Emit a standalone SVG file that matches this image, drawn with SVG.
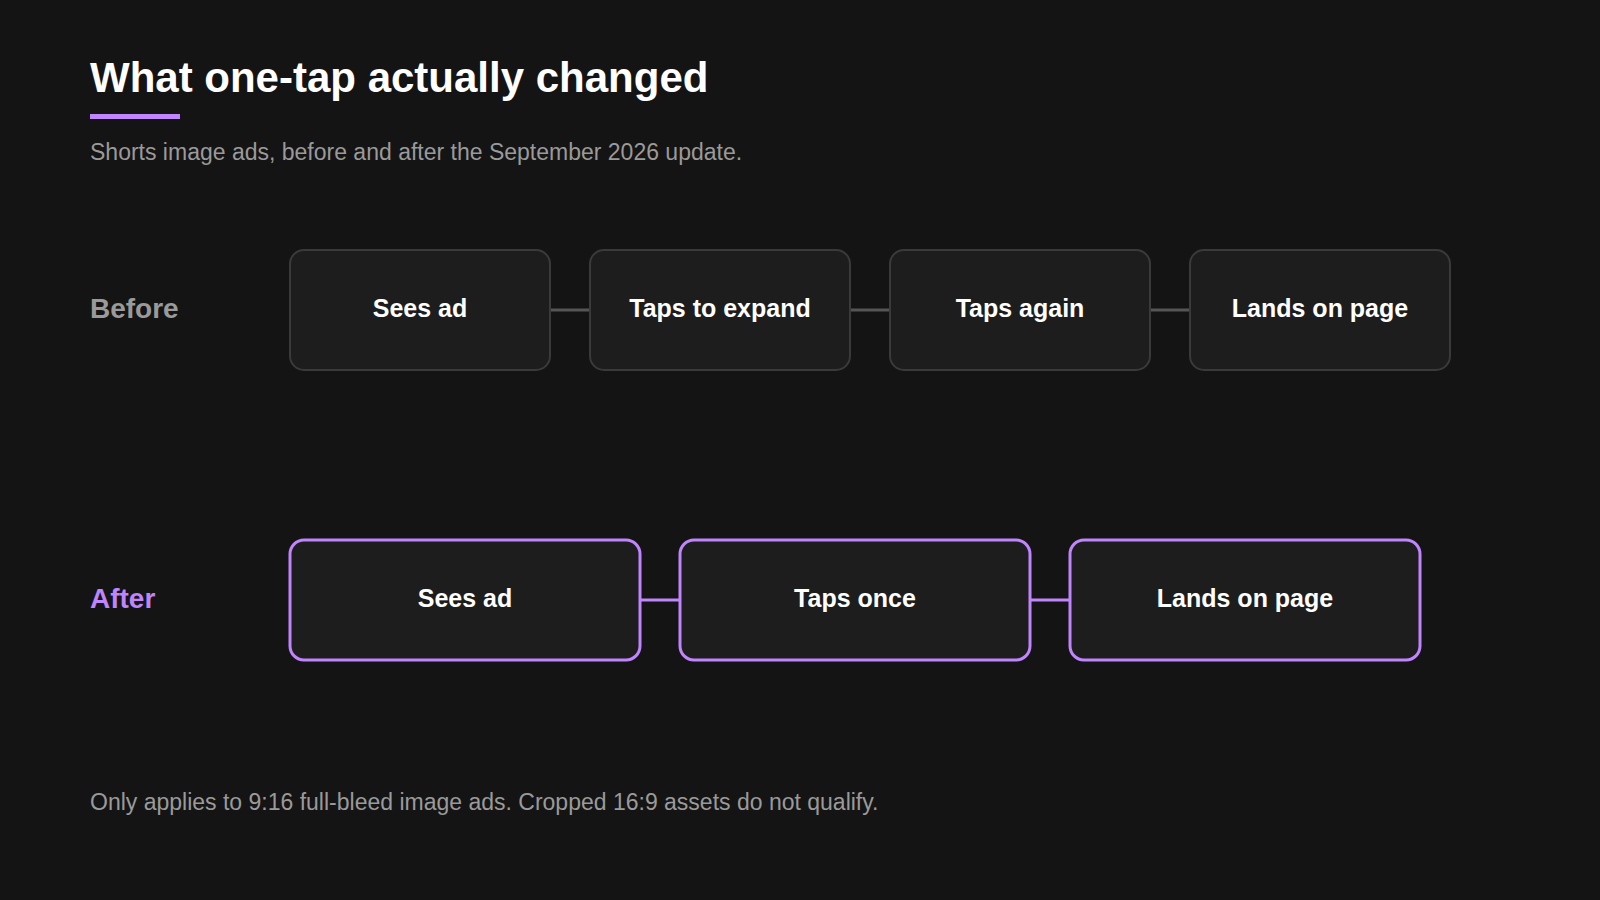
<svg xmlns="http://www.w3.org/2000/svg" width="1600" height="900" viewBox="0 0 1600 900">
<style>
.bg{fill:#141414}
.title{font-family:"Liberation Sans",Arial,sans-serif;font-weight:700;font-size:42px;fill:#ffffff}
.sub{font-family:"Liberation Sans",Arial,sans-serif;font-size:23px;fill:#9a9a9a}
.row{font-family:"Liberation Sans",Arial,sans-serif;font-weight:700;font-size:28px}
.lbl{font-family:"Liberation Sans",Arial,sans-serif;font-weight:700;font-size:25px;fill:#ffffff;text-anchor:middle}
.nb{fill:#1d1d1d;stroke:#3a3a3a;stroke-width:2}
.na{fill:#1d1d1d;stroke:#c084fc;stroke-width:3}
.cb{stroke:#555555;stroke-width:3}
.ca{stroke:#c084fc;stroke-width:3}
</style>
<rect class="bg" x="0" y="0" width="1600" height="900"/>
<text class="title" x="90" y="92">What one-tap actually changed</text>
<rect x="90" y="114" width="90" height="5" fill="#c084fc"/>
<text class="sub" x="90" y="160">Shorts image ads, before and after the September 2026 update.</text>
<text class="row" x="90" y="318" fill="#9a9a9a">Before</text>
<text class="row" x="90" y="608" fill="#c084fc">After</text>
<g id="connectors">
<line class="cb" x1="550" y1="310" x2="590" y2="310"/>
<line class="cb" x1="850" y1="310" x2="890" y2="310"/>
<line class="cb" x1="1150" y1="310" x2="1190" y2="310"/>
<line class="ca" x1="640" y1="600" x2="680" y2="600"/>
<line class="ca" x1="1030" y1="600" x2="1070" y2="600"/>
</g>
<g id="b1"><rect class="nb" x="290" y="250" width="260" height="120" rx="14"/><text class="lbl" x="420" y="317">Sees ad</text></g>
<g id="b2"><rect class="nb" x="590" y="250" width="260" height="120" rx="14"/><text class="lbl" x="720" y="317">Taps to expand</text></g>
<g id="b3"><rect class="nb" x="890" y="250" width="260" height="120" rx="14"/><text class="lbl" x="1020" y="317">Taps again</text></g>
<g id="b4"><rect class="nb" x="1190" y="250" width="260" height="120" rx="14"/><text class="lbl" x="1320" y="317">Lands on page</text></g>
<g id="a1"><rect class="na" x="290" y="540" width="350" height="120" rx="14"/><text class="lbl" x="465" y="607">Sees ad</text></g>
<g id="a2"><rect class="na" x="680" y="540" width="350" height="120" rx="14"/><text class="lbl" x="855" y="607">Taps once</text></g>
<g id="a3"><rect class="na" x="1070" y="540" width="350" height="120" rx="14"/><text class="lbl" x="1245" y="607">Lands on page</text></g>
<text class="sub" x="90" y="810">Only applies to 9:16 full-bleed image ads. Cropped 16:9 assets do not qualify.</text>
</svg>
